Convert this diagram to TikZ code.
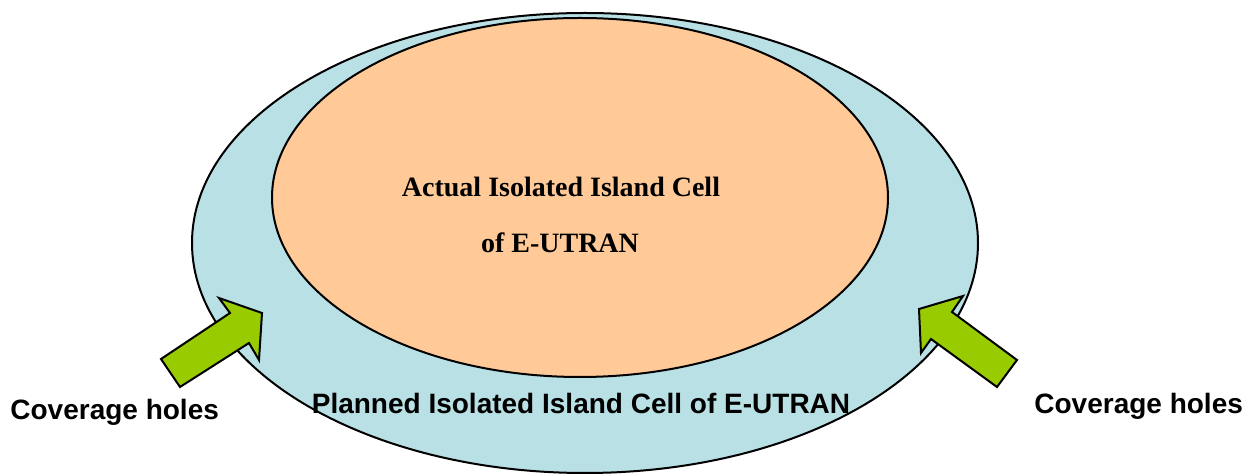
\documentclass[tikz,border=0pt]{standalone}
\usepackage{fontspec}
\setmainfont{Liberation Serif}
\newfontfamily\arialfont{Liberation Sans}
\definecolor{outerblue}{HTML}{B9E0E4}
\definecolor{innerpeach}{HTML}{FFCA98}
\definecolor{arrowgreen}{HTML}{99CC00}
\begin{document}
\begin{tikzpicture}[x=0.5pt,y=-0.5pt,
  cellshape/.style={draw=black,line width=1pt},
  blockarrow/.style={draw=black,fill=arrowgreen,line width=1pt,line join=miter},
  serifbold/.style={inner sep=0pt,font=\fontsize{14}{16}\selectfont\bfseries},
  sansbold/.style={inner sep=0pt,font=\arialfont\fontsize{14}{16}\selectfont\bfseries}]
\useasboundingbox (0,0) rectangle (1244,475);
% planned (outer) cell
\path[cellshape,fill=outerblue] (585,243) ellipse [x radius=393, y radius=230];
% actual (inner) cell
\path[cellshape,fill=innerpeach] (580,197.5) ellipse [x radius=308, y radius=179.5];
% block arrows
\draw[blockarrow] (161,359) -- (230,313) -- (219,298) -- (262,313) -- (259,360) -- (249,343) -- (180,387) -- cycle;
\draw[blockarrow] (1017,360) -- (952,312) -- (963,296) -- (919,309) -- (921,353) -- (931,339) -- (997,387) -- cycle;
% texts
\node[serifbold,anchor=base] (a1) at (561,197) {Actual Isolated Island Cell};
\node[serifbold,anchor=base] (a2) at (560,253) {of E-UTRAN};
\node[sansbold,anchor=base] (p) at (581,414) {Planned Isolated Island Cell of E-UTRAN};
\node[sansbold,anchor=base west] (cl) at (10,420) {Coverage holes};
\node[sansbold,anchor=base west] (cr) at (1034,414) {Coverage holes};
\end{tikzpicture}
\end{document}
